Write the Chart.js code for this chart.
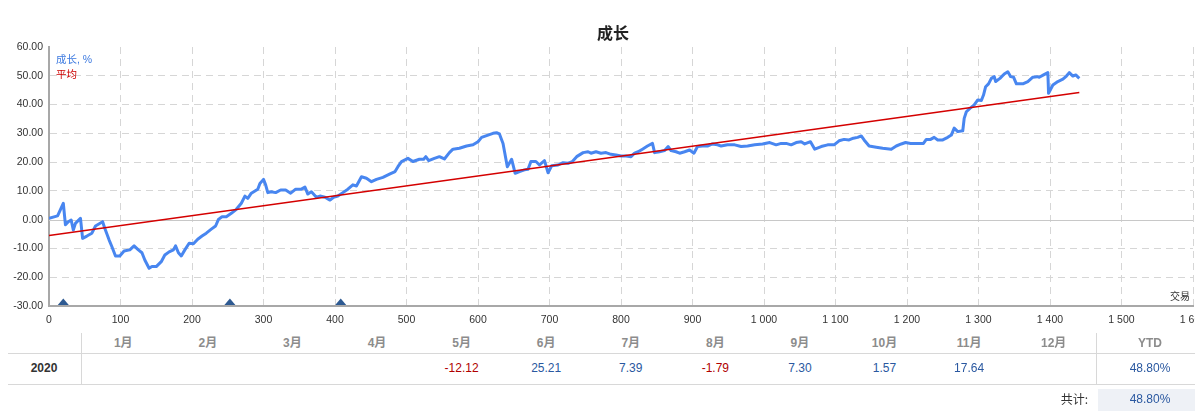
<!DOCTYPE html>
<html><head><meta charset="utf-8">
<script src="https://cdn.jsdelivr.net/npm/chart.js@4.4.1/dist/chart.umd.min.js"></script>
<style>
html,body{margin:0;padding:0;background:#fff;overflow:hidden;width:1195px;height:415px;}
#wrap{position:relative;width:1195px;height:415px;overflow:hidden;font-family:"Liberation Sans","Noto Sans CJK SC",sans-serif;}
#cv{position:absolute;left:0;top:0;}
.t{position:absolute;white-space:nowrap;line-height:1;}
.c{transform:translate(-50%,-50%);}
.l{transform:translate(0,-50%);}
.r{transform:translate(-100%,-50%);}
.hl{position:absolute;height:1px;background:#d8d8d8;}
.vl{position:absolute;width:1px;background:#d8d8d8;}
</style></head>
<body><div id="wrap">
<canvas id="cv" width="1240" height="330"></canvas>
<div class="t c" style="left:613px;top:32px;font-weight:bold;font-size:16px;font-family:'Noto Sans CJK SC';color:#222">成长</div>
<div class="t l" style="left:56px;top:59px;font-size:10.5px;color:#3d7ae0">成长, %</div>
<div class="t l" style="left:56px;top:74px;font-size:10.5px;color:#cc0000">平均</div>
<div class="t l" style="left:1170px;top:297px;font-size:10px;color:#333">交易</div>
<div id="table"></div>
</div>
<script>
// ---- data ----
const tradeIdx = [0,12,20,23,27,31,34,37,44,47,53,60,65,75,78,84,88,93,99,105,113,119,125,130,134,140,144,150,157,162,168,174,177,181,185,190,196,202,208,214,220,227,233,237,242,248,255,262,269,274,278,283,292,295,300,303,306,
311,317,324,331,338,345,353,358,362,367,374,379,386,393,398,404,411,418,425,430,437,444,451,458,467,477,484,488,493,502,509,518,524,527,531,539,546,553,560,565,574,584,593,600,605,614,621,626,630,
635,641,647,652,658,665,670,674,681,686,693,698,703,712,719,726,732,738,747,754,758,765,772,779,786,793,800,807,814,819,824,830,837,844,847,854,861,866,870,877,882,889,896,902,907,914,921,928,
935,940,949,959,968,977,987,998,1008,1017,1024,1031,1038,1045,1052,1057,1065,1071,1080,1089,1098,1105,1112,1119,1125,1131,1136,1140,1147,1157,1166,1178,1185,1192,1198,1205,1215,1223,1227,1233,
1238,1243,1250,1257,1262,1266,1271,1278,1280,1283,1288,1294,1299,1304,1307,1310,1314,1318,1322,1324,1330,1336,1341,1345,1349,1353,1362,1369,1376,1382,1385,1391,1397,1398,1404,1411,1418,1423,1427,1432,1436,1441];
const growth = [0.5,1.3,5.7,-1.8,-0.7,-0.1,-3.6,-1.3,0.5,-6.5,-5.7,-4.7,-2.2,-0.7,-3.0,-7.0,-9.4,-12.6,-12.6,-10.9,-10.5,-9.1,-10.5,-11.5,-14.0,-16.9,-16.3,-16.3,-14.6,-12.3,-11.2,-10.5,-9.1,-11.5,-12.6,-10.5,-8.2,-8.4,-6.8,-5.7,-4.7,-3.3,-2.2,0.1,1.0,1.0,2.2,3.6,5.7,8.2,7.4,9.2,10.6,12.6,14.0,12.1,9.4,
9.7,9.4,10.3,10.3,9.2,10.6,10.6,11.3,8.9,9.7,7.8,8.2,7.8,6.8,7.8,8.2,9.4,10.6,12.1,11.7,14.9,14.4,13.2,14.0,14.7,15.9,16.7,18.4,20.2,21.3,20.2,21.0,21.0,21.9,20.5,21.3,21.9,21.1,23.3,24.5,24.8,25.6,26.0,27.1,28.6,29.4,30.0,30.2,29.8,
26.5,18.4,21.0,16.1,16.7,17.3,17.5,20.2,20.2,19.0,20.5,16.3,18.7,19.0,19.8,19.6,20.2,21.9,23.3,23.6,23.1,23.6,23.1,23.3,22.7,22.5,22.1,22.1,21.9,23.1,23.6,24.5,25.6,26.5,23.3,23.6,24.0,25.4,24.0,23.6,23.1,23.6,24.2,23.1,25.4,25.6,25.6,26.3,
26.0,25.6,26.0,26.0,25.4,25.6,26.0,26.3,26.8,26.0,26.5,26.5,26.0,26.8,27.1,26.3,27.1,24.5,25.4,26.0,26.0,27.4,27.9,27.7,28.3,28.6,29.1,27.7,25.6,25.2,24.8,24.5,25.6,26.3,26.8,26.5,26.5,26.5,27.9,27.9,
28.6,27.7,27.7,28.6,29.4,31.8,30.6,30.9,35.2,37.5,38.7,39.9,41.6,41.4,43.3,46.2,47.2,49.1,49.7,48.0,49.1,50.6,51.4,49.7,49.5,47.2,47.2,48.0,49.5,49.7,49.5,50.3,51.1,43.9,46.8,48.0,48.8,49.9,51.1,49.9,50.3,49.1];
const avgIdx = [0, 1441];
const avgVal = [-5.5, 44.2];
const markerIdx = [20, 253, 408];
const xMin = 0, xMax = 1600, xStep = 100;
const yMin = -30, yMax = 60, yStep = 10;
const months = ['1月','2月','3月','4月','5月','6月','7月','8月','9月','10月','11月','12月'];
const yearLabel = '2020';
const monthly = [null,null,null,null,-12.12,25.21,7.39,-1.79,7.30,1.57,17.64,null];
const ytdLabel = 'YTD';
const ytdValue = '48.80%';
const totalLabel = '共计:';
const totalValue = '48.80%';

// ---- table (HTML text) ----
(function(){
  const T = document.getElementById('table');
  function txt(s, x, y, cls, style){
    const d = document.createElement('div');
    d.className = 't ' + cls; d.textContent = s;
    d.style.left = x + 'px'; d.style.top = y + 'px';
    d.style.cssText += ';' + style;
    T.appendChild(d);
  }
  function line(cls, x, y, w, h){
    const d = document.createElement('div'); d.className = cls;
    d.style.left = x+'px'; d.style.top = y+'px';
    if (w) d.style.width = w+'px'; if (h) d.style.height = h+'px';
    T.appendChild(d);
  }
  line('hl', 8, 353, 1187, 0);
  line('hl', 8, 384, 1187, 0);
  line('vl', 81, 333, 0, 51);
  line('vl', 1096, 333, 0, 51);
  const c0 = 81, cw = (1096 - 81) / 12;
  months.forEach((m, i) => txt(m, c0 + cw*(i+0.5), 343, 'c', 'font-size:12px;font-weight:bold;color:#8c8c8c'));
  txt(ytdLabel, 1150, 343, 'c', 'font-size:12px;font-weight:bold;color:#8c8c8c');
  txt(yearLabel, 44, 368, 'c', 'font-size:12px;font-weight:bold;color:#333');
  monthly.forEach((v, i) => {
    if (v === null) return;
    txt(v.toFixed(2), c0 + cw*(i+0.5), 368, 'c', 'font-size:12px;color:' + (v < 0 ? '#b00000' : '#2a58a0'));
  });
  txt(ytdValue, 1150, 368, 'c', 'font-size:12px;color:#2a58a0');
  const box = document.createElement('div');
  box.style.cssText = 'position:absolute;left:1098px;top:389px;width:97px;height:22px;background:#eef1f6';
  T.appendChild(box);
  txt(totalLabel, 1088, 399, 'r', "font-size:12px;color:#333;font-family:'Noto Sans CJK SC'");
  txt(totalValue, 1150, 399, 'c', 'font-size:12px;color:#2a58a0');
})();

// ---- chart ----
const zeroLine = {
  id: 'zeroLine',
  beforeDatasetsDraw(chart){
    const {ctx, chartArea:a, scales:{y}} = chart;
    const py = Math.round(y.getPixelForValue(0)) + 0.5;
    ctx.save(); ctx.strokeStyle = '#c8c8c8'; ctx.lineWidth = 1;
    ctx.beginPath(); ctx.moveTo(a.left, py); ctx.lineTo(a.right, py); ctx.stroke(); ctx.restore();
  }
};
const markers = {
  id: 'markers',
  afterDatasetsDraw(chart){
    const {ctx, scales:{x, y}} = chart;
    const base = y.getPixelForValue(yMin) - 1;
    ctx.save(); ctx.fillStyle = '#2e5a92';
    markerIdx.forEach(v => {
      const px = x.getPixelForValue(v);
      ctx.beginPath(); ctx.moveTo(px - 5.5, base); ctx.lineTo(px + 5.5, base); ctx.lineTo(px, base - 6.5); ctx.closePath(); ctx.fill();
    });
    ctx.restore();
  }
};
const tickFont = {family: "'Liberation Sans', sans-serif", size: 10.5};
new Chart(document.getElementById('cv'), {
  type: 'line',
  data: {
    datasets: [
      { label: '平均', data: avgIdx.map((x, i) => ({x, y: avgVal[i]})), borderColor: '#d40000', borderWidth: 1.6, pointRadius: 0, tension: 0, order: 0 },
      { label: '成长, %', data: tradeIdx.map((x, i) => ({x, y: growth[i]})), borderColor: '#4886f0', borderWidth: 3, pointRadius: 0, tension: 0, borderJoinStyle: 'round', order: 1 }
    ]
  },
  options: {
    responsive: false, animation: false, devicePixelRatio: 1,
    layout: { padding: { top: 47, left: 0, right: 47, bottom: 0 } },
    plugins: { legend: { display: false }, title: { display: false }, tooltip: { enabled: false } },
    scales: {
      x: {
        type: 'linear', min: xMin, max: xMax,
        ticks: { stepSize: xStep, color: '#333', font: tickFont, padding: 8, maxRotation: 0, autoSkip: false,
          callback: v => v >= 1000 ? Math.floor(v/1000) + ' ' + String(v % 1000).padStart(3, '0') : String(v) },
        grid: { drawTicks: false, lineWidth: 1, color: c => (c.tick && c.tick.value === xMin) ? 'rgba(0,0,0,0)' : '#d6d6d6' },
        border: { color: '#a8a8a8', width: 2, dash: [7, 5] },
        afterFit(s){ s.height = 24; }
      },
      y: {
        min: yMin, max: yMax,
        ticks: { stepSize: yStep, color: '#333', font: tickFont, padding: 6, callback: v => v.toFixed(2) },
        grid: { drawTicks: false, lineWidth: 1, color: c => (c.tick && (c.tick.value === 0 || c.tick.value === yMax || c.tick.value === yMin)) ? 'rgba(0,0,0,0)' : '#d6d6d6' },
        border: { color: '#a8a8a8', width: 2, dash: [7, 5] },
        afterFit(s){ s.width = 49; }
      }
    }
  },
  plugins: [zeroLine, markers]
});
</script>
</body></html>
